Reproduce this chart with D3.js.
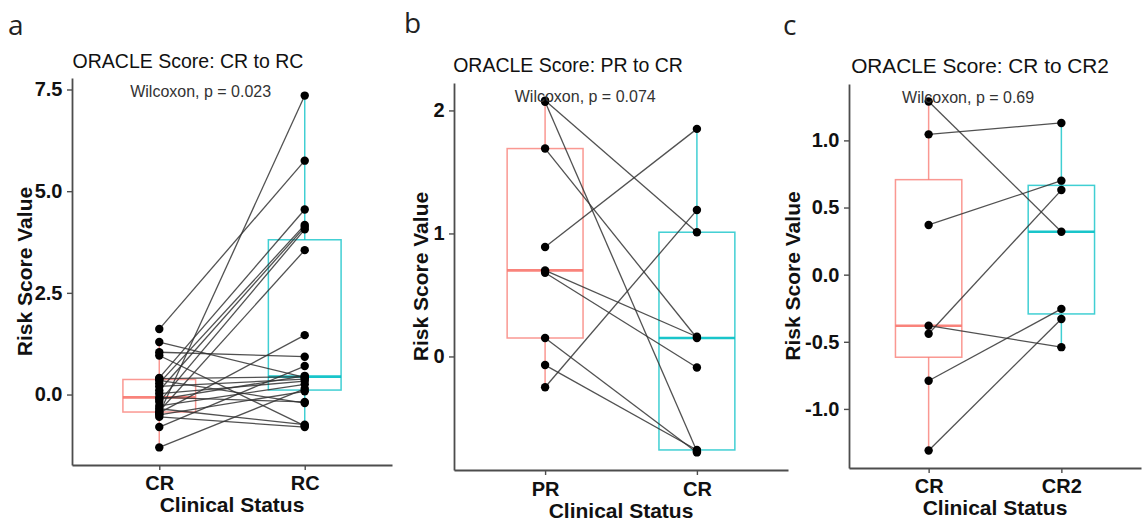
<!DOCTYPE html>
<html><head><meta charset="utf-8">
<script src="https://cdn.jsdelivr.net/npm/d3@7"></script>
<style>
body{margin:0;background:#fff}
svg{display:block}
text{font-family:"Liberation Sans",Arial,sans-serif}
</style>
</head><body>
<svg id="chart" width="1144" height="521"></svg>
<script>
// ---------------- data ----------------
const panelLetters = ["a", "b", "c"];
const panelTitles = ["ORACLE Score: CR to RC", "ORACLE Score: PR to CR", "ORACLE Score: CR to CR2"];
const pLabels = ["Wilcoxon, p = 0.023", "Wilcoxon, p = 0.074", "Wilcoxon, p = 0.69"];
const yTitle = "Risk Score Value";
const xTitle = "Clinical Status";

// panel a: paired values (index i of each array = same patient)
const aCategories = ["CR", "RC"];
const aCR = [1.61, 1.29, 1.04, 0.96, 0.41, 0.39, 0.35, 0.28, 0.20, 0.10, 0.02, -0.07, -0.12, -0.18, -0.28, -0.35, -0.41, -0.45, -0.47, -0.50, -0.55, -0.80, -1.30];
const aRC = [5.75, 0.42, 0.93, -0.77, 4.55, 0.44, -0.21, 4.17, 0.38, 4.12, 0.33, -0.18, 0.46, 4.06, 0.25, -0.74, 3.55, 1.46, 7.35, 0.08, -0.80, 0.70, 0.14];
const aTicks = [0, 2.5, 5, 7.5];

// panel b
const bCategories = ["PR", "CR"];
const bPR = [2.08, 2.07, 1.69, 0.89, 0.70, 0.68, 0.15, -0.07, -0.25];
const bCR = [1.01, -0.77, 0.15, 1.85, 0.16, -0.09, -0.78, -0.76, 1.19];
const bTicks = [0, 1, 2];

// panel c
const cCategories = ["CR", "CR2"];
const cCR = [1.29, 1.045, 0.37, -0.38, -0.44, -0.79, -1.31];
const cCR2 = [0.32, 1.13, 0.70, -0.54, 0.63, -0.255, -0.33];
const cTicks = [-1, -0.5, 0, 0.5, 1];

const groupColors = ["#F8766D", "#00BFC4"];

// ---------------- layout ----------------
const layout = [
  {left: 72, right: 392, top: 78, bottom: 465, letterX: 8, letterY: 35, titleX: 188, titleY: 67.5, titleFs: 19.5, ylabX: 24, xlabY: 512, xtickPad: 5.5, fmt: v => v.toFixed(1)},
  {left: 454, right: 788, top: 83, bottom: 470, letterX: 404, letterY: 33, titleX: 568, titleY: 71.5, titleFs: 19.5, ylabX: 420, xlabY: 518, xtickPad: 6.5, fmt: v => String(v)},
  {left: 849, right: 1141, top: 84, bottom: 468, letterX: 783, letterY: 35, titleX: 980, titleY: 72.5, titleFs: 20.8, ylabX: 792, xlabY: 515, xtickPad: 6, fmt: v => v.toFixed(1)}
];

const panels = [
  {cats: aCategories, g1: aCR, g2: aRC, ticks: aTicks},
  {cats: bCategories, g1: bPR, g2: bCR, ticks: bTicks},
  {cats: cCategories, g1: cCR, g2: cCR2, ticks: cTicks}
];

const svg = d3.select("#chart");

function boxStats(vals) {
  const s = vals.slice().sort(d3.ascending);
  const q1 = d3.quantile(s, 0.25), med = d3.quantile(s, 0.5), q3 = d3.quantile(s, 0.75);
  const iqr = q3 - q1;
  const lo = d3.min(s.filter(v => v >= q1 - 1.5 * iqr));
  const hi = d3.max(s.filter(v => v <= q3 + 1.5 * iqr));
  return {q1, med, q3, lo, hi};
}

panels.forEach((p, k) => {
  const L = layout[k];
  const g = svg.append("g");
  const all = p.g1.concat(p.g2);
  const ext = d3.extent(all);
  const pad = (ext[1] - ext[0]) * 0.05;
  const y = d3.scaleLinear().domain([ext[0] - pad, ext[1] + pad]).range([L.bottom, L.top]);
  const x = d3.scaleLinear().domain([0.4, 2.6]).range([L.left, L.right]);

  // panel letter
  g.append("text").attr("x", L.letterX).attr("y", L.letterY)
    .style("font-family", "'Open Sans','Noto Sans',sans-serif")
    .attr("font-size", 28).attr("fill", "#222").text(panelLetters[k]);

  // title
  g.append("text").attr("x", L.titleX).attr("y", L.titleY)
    .attr("text-anchor", "middle").attr("font-size", L.titleFs).attr("fill", "#111")
    .text(panelTitles[k]);

  // boxes
  [p.g1, p.g2].forEach((vals, i) => {
    const st = boxStats(vals);
    const cx = x(i + 1), x0 = x(i + 1 - 0.25), x1 = x(i + 1 + 0.25);
    const col = groupColors[i];
    const bg = g.append("g").attr("stroke", col).attr("fill", "none");
    bg.append("line").attr("x1", cx).attr("x2", cx).attr("y1", y(st.q3)).attr("y2", y(st.hi))
      .attr("stroke-width", 1.5).attr("stroke-opacity", 0.75);
    bg.append("line").attr("x1", cx).attr("x2", cx).attr("y1", y(st.q1)).attr("y2", y(st.lo))
      .attr("stroke-width", 1.5).attr("stroke-opacity", 0.75);
    bg.append("rect").attr("x", x0).attr("width", x1 - x0)
      .attr("y", y(st.q3)).attr("height", y(st.q1) - y(st.q3))
      .attr("stroke-width", 1.5).attr("stroke-opacity", 0.75);
    bg.append("line").attr("x1", x0).attr("x2", x1).attr("y1", y(st.med)).attr("y2", y(st.med))
      .attr("stroke-width", 2.6).attr("stroke-opacity", 0.9);
  });

  // paired lines
  const pairs = p.g1.map((v, i) => [v, p.g2[i]]);
  g.append("g").selectAll("line").data(pairs).join("line")
    .attr("x1", x(1)).attr("x2", x(2))
    .attr("y1", d => y(d[0])).attr("y2", d => y(d[1]))
    .attr("stroke", "#333").attr("stroke-opacity", 0.85).attr("stroke-width", 1.3);

  // points
  const pts = p.g1.map(v => [1, v]).concat(p.g2.map(v => [2, v]));
  g.append("g").selectAll("circle").data(pts).join("circle")
    .attr("cx", d => x(d[0])).attr("cy", d => y(d[1])).attr("r", 4.2).attr("fill", "#000");

  // axes
  const yAxis = d3.axisLeft(y).tickValues(p.ticks).tickFormat(L.fmt).tickSize(5).tickPadding(4.5).tickSizeOuter(0);
  const ya = g.append("g").attr("transform", `translate(${L.left},0)`).call(yAxis);
  const xAxis = d3.axisBottom(x).tickValues([1, 2]).tickFormat(d => p.cats[d - 1]).tickSize(5).tickPadding(L.xtickPad).tickSizeOuter(0);
  const xa = g.append("g").attr("transform", `translate(0,${L.bottom})`).call(xAxis);
  [ya, xa].forEach(a => {
    a.select(".domain").attr("stroke", "#4d4d4d").attr("stroke-width", 1.8);
    a.selectAll(".tick line").attr("stroke", "#4d4d4d").attr("stroke-width", 1.4);
    a.selectAll(".tick text").attr("fill", "#111").attr("font-size", 20).attr("font-weight", "bold")
      .style("font-family", "'Liberation Sans',Arial,sans-serif");
  });

  // p-value label
  g.append("text").attr("x", x(0.8)).attr("y", L.top + 19)
    .attr("font-size", 16).attr("fill", "#333").text(pLabels[k]);

  // axis titles
  g.append("text").attr("transform", `translate(${L.ylabX},${(L.top + L.bottom) / 2}) rotate(-90)`)
    .attr("text-anchor", "middle").attr("dominant-baseline", "central")
    .attr("font-size", 21).attr("font-weight", "bold").attr("fill", "#111").text(yTitle);
  g.append("text").attr("x", (L.left + L.right) / 2).attr("y", L.xlabY)
    .attr("text-anchor", "middle").attr("font-size", 21).attr("font-weight", "bold").attr("fill", "#111")
    .text(xTitle);
});
</script>
</body></html>
